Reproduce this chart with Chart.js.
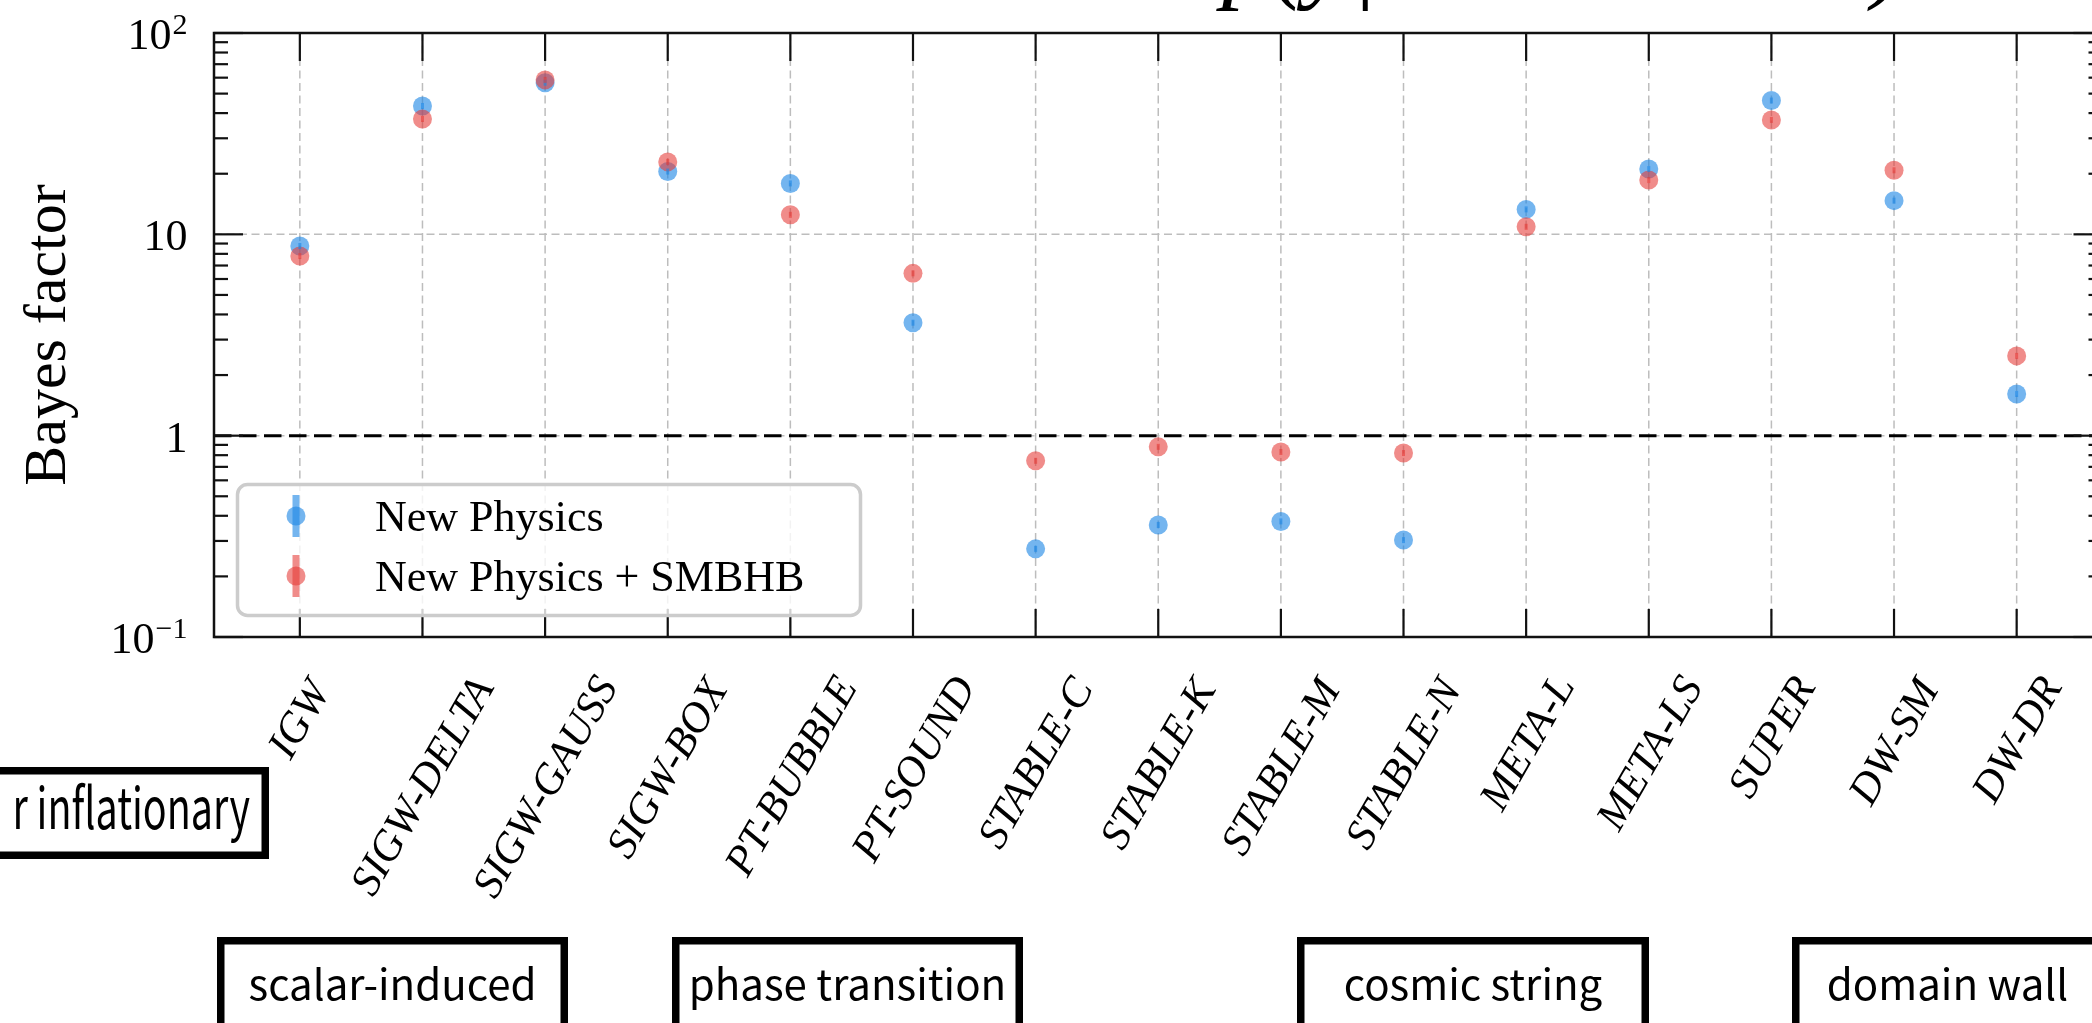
<!DOCTYPE html>
<html>
<head>
<meta charset="utf-8">
<script src="https://cdn.jsdelivr.net/npm/chart.js@4.4.1/dist/chart.umd.min.js"></script>
<style>
html,body{margin:0;padding:0;background:#fff;overflow:hidden;}
#wrap{position:relative;width:2092px;height:1023px;overflow:hidden;background:#fff;}
#inner{position:absolute;left:0;top:0;width:2112px;height:1023px;}
</style>
</head>
<body>
<div id="wrap"><div id="inner"><canvas id="c"></canvas></div></div>
<script>
// ---------------- data ----------------
const categories = ['IGW','SIGW-DELTA','SIGW-GAUSS','SIGW-BOX','PT-BUBBLE','PT-SOUND','STABLE-C','STABLE-K','STABLE-M','STABLE-N','META-L','META-LS','SUPER','DW-SM','DW-DR'];
const newPhysics      = [8.75, 43.4, 56.6, 20.5, 17.9, 3.64, 0.274, 0.36, 0.375, 0.303, 13.3, 21.1, 46.2, 14.7, 1.61];
const newPhysicsSMBHB = [7.8, 37.4, 58.5, 22.9, 12.5, 6.4, 0.75, 0.88, 0.83, 0.82, 10.9, 18.6, 37.0, 20.8, 2.49];
const seriesLabels = ['New Physics', 'New Physics + SMBHB'];
const yTickValues = [0.1, 1, 10, 100];
const yTickBase   = ['10', '1', '10', '10'];
const yTickExp    = ['\u22121', '', '', '2'];
const yAxisTitle = 'Bayes factor';
const referenceLevel = 1;
const groupLabels = ['r inflationary', 'scalar-induced', 'phase transition', 'cosmic string', 'domain wall'];
const titlePieces = ['p(y|', ')'];

// ---------------- styles / layout ----------------
const BLUE = 'rgba(30,136,229,0.62)';
const RED  = 'rgba(229,57,53,0.58)';
const SERIF = '"Liberation Serif", "DejaVu Serif", serif';
const SANS  = '"Noto Sans CJK SC", "Noto Sans", sans-serif';
const groupBoxStyle = [
  {left:-60, right:269, top:767, bottom:859, anchor:'right', tx:250, baseline:829, size:58, sx:0.68},
  {left:217, right:568, top:937, bottom:1080, anchor:'center', baseline:1000, size:42, sx:1},
  {left:672, right:1023, top:937, bottom:1080, anchor:'center', baseline:1000, size:42, sx:1},
  {left:1297, right:1649, top:937, bottom:1080, anchor:'center', baseline:1000, size:42, sx:1},
  {left:1792, right:2103, top:937, bottom:1080, anchor:'center', baseline:1000, size:42, sx:1}
];
const titleStyle = [{x:1222, y:-10}, {x:1872, y:-10}];

function line(ctx, x1, y1, x2, y2){ ctx.beginPath(); ctx.moveTo(x1,y1); ctx.lineTo(x2,y2); ctx.stroke(); }

const framePlugin = {
  id: 'frame',
  beforeDatasetsDraw(chart){
    const {ctx, chartArea:a, scales:{x, y}} = chart;
    ctx.save();
    ctx.strokeStyle = '#bdbdbd'; ctx.lineWidth = 1.5; ctx.setLineDash([8, 4.5]);
    categories.forEach((c, i) => { const px = x.getPixelForValue(i); line(ctx, px, a.top, px, a.bottom); });
    yTickValues.forEach(v => { if (v > y.min && v < y.max) { const py = y.getPixelForValue(v); line(ctx, a.left, py, a.right, py); } });
    ctx.restore();
  },
  afterDatasetsDraw(chart){
    const {ctx, chartArea:a, scales:{x, y}} = chart;
    ctx.save();
    // tiny error-bar cores on markers
    [1, 2].forEach(di => {
      const meta = chart.getDatasetMeta(di);
      ctx.strokeStyle = chart.data.datasets[di].backgroundColor; ctx.lineWidth = 3;
      meta.data.forEach(pt => line(ctx, pt.x, pt.y - 3, pt.x, pt.y + 3));
    });
    // spines
    ctx.strokeStyle = '#111'; ctx.lineWidth = 2.5; ctx.setLineDash([]);
    ctx.strokeRect(a.left, a.top, a.right - a.left, a.bottom - a.top);
    // x ticks (inward, bottom & top)
    ctx.lineWidth = 2.2;
    categories.forEach((c, i) => {
      const px = x.getPixelForValue(i);
      line(ctx, px, a.bottom, px, a.bottom - 28);
      line(ctx, px, a.top, px, a.top + 28);
    });
    // y ticks major / minor
    yTickValues.forEach(v => {
      const py = y.getPixelForValue(v);
      line(ctx, a.left, py, a.left + 29, py);
      line(ctx, a.right, py, a.right - 29, py);
    });
    for (let d = 0; d < yTickValues.length - 1; d++) {
      for (let m = 2; m <= 9; m++) {
        const py = y.getPixelForValue(m * yTickValues[d]);
        line(ctx, a.left, py, a.left + 14, py);
        line(ctx, a.right, py, a.right - 14, py);
      }
    }
    // y tick labels
    ctx.fillStyle = '#000';
    ctx.textBaseline = 'alphabetic';
    yTickValues.forEach((v, i) => {
      const py = y.getPixelForValue(v);
      const right = a.left - 26.5;
      ctx.font = '30px ' + SERIF;
      ctx.textAlign = 'right';
      const ws = yTickExp[i] ? ctx.measureText(yTickExp[i]).width + 1 : 0;
      if (yTickExp[i]) ctx.fillText(yTickExp[i], right, py + 1);
      ctx.font = '44px ' + SERIF;
      ctx.fillText(yTickBase[i], right - ws, py + 16);
    });
    // y title
    ctx.save();
    ctx.font = '60px ' + SERIF; ctx.textAlign = 'center';
    ctx.translate(65, (a.top + a.bottom) / 2); ctx.rotate(-Math.PI / 2);
    ctx.fillText(yAxisTitle, 0, 0);
    ctx.restore();
    // x tick labels (rotated 60deg, bounding box centred on tick, top at fixed offset)
    ctx.font = 'italic 43px ' + SERIF;
    ctx.textAlign = 'center';
    const ang = Math.PI / 3;
    categories.forEach((c, i) => {
      const m = ctx.measureText(c);
      const w = m.actualBoundingBoxLeft + m.actualBoundingBoxRight;
      const h = m.actualBoundingBoxAscent + m.actualBoundingBoxDescent;
      const H = w * Math.sin(ang) + h * Math.cos(ang);
      const px = x.getPixelForValue(i);
      ctx.save();
      ctx.translate(px, a.bottom + 36 + H / 2);
      ctx.rotate(-ang);
      ctx.fillText(c, (m.actualBoundingBoxLeft - m.actualBoundingBoxRight) / 2, (m.actualBoundingBoxAscent - m.actualBoundingBoxDescent) / 2);
      ctx.restore();
    });
    // legend
    ctx.save();
    ctx.beginPath(); ctx.roundRect(237.5, 484.5, 623, 131, 10);
    ctx.fillStyle = 'rgba(255,255,255,0.8)'; ctx.fill();
    ctx.strokeStyle = '#cccccc'; ctx.lineWidth = 3.5; ctx.stroke();
    const cols = [BLUE, RED];
    seriesLabels.forEach((lab, i) => {
      const cy = 516 + i * 60, cx = 296;
      ctx.strokeStyle = cols[i]; ctx.lineWidth = 7; line(ctx, cx, cy - 21, cx, cy + 21);
      ctx.fillStyle = cols[i]; ctx.beginPath(); ctx.arc(cx, cy, 9.5, 0, Math.PI * 2); ctx.fill();
      ctx.fillStyle = '#000'; ctx.font = '44px ' + SERIF; ctx.textAlign = 'left';
      ctx.fillText(lab, 375, cy + 15);
    });
    ctx.restore();
    // title (mostly above the visible area)
    ctx.font = 'italic 100px ' + SERIF; ctx.textAlign = 'left'; ctx.fillStyle = '#000';
    titlePieces.forEach((t, i) => ctx.fillText(t, titleStyle[i].x, titleStyle[i].y));
    // group boxes
    groupLabels.forEach((g, i) => {
      const s = groupBoxStyle[i];
      ctx.save();
      ctx.fillStyle = '#fff'; ctx.fillRect(s.left, s.top, s.right - s.left, s.bottom - s.top);
      ctx.strokeStyle = '#000'; ctx.lineWidth = 7.5;
      ctx.strokeRect(s.left + 3.75, s.top + 3.75, s.right - s.left - 7.5, s.bottom - s.top - 7.5);
      ctx.fillStyle = '#000'; ctx.font = s.size + 'px ' + SANS;
      if (s.anchor === 'right') {
        ctx.translate(s.tx, s.baseline); ctx.scale(s.sx, 1); ctx.textAlign = 'right'; ctx.fillText(g, 0, 0);
      } else {
        ctx.textAlign = 'center'; ctx.fillText(g, (s.left + s.right) / 2, s.baseline);
      }
      ctx.restore();
    });
    ctx.restore();
  }
};

const toPts = arr => arr.map((v, i) => ({x: i, y: v}));

new Chart(document.getElementById('c'), {
  type: 'scatter',
  data: {
    datasets: [
      {type:'line', label:'ref', data:[{x:-0.7, y:referenceLevel}, {x:14.7, y:referenceLevel}], borderColor:'#000', borderWidth:3, borderDash:[17.5, 7.5], pointRadius:0, fill:false, order:3},
      {label: seriesLabels[0], data: toPts(newPhysics), backgroundColor: BLUE, borderWidth: 0, pointRadius: 9.5, order:2},
      {label: seriesLabels[1], data: toPts(newPhysicsSMBHB), backgroundColor: RED, borderWidth: 0, pointRadius: 9.5, order:1}
    ]
  },
  options: {
    responsive: true, maintainAspectRatio: false, animation: false, devicePixelRatio: 1,
    layout: {padding: {left: 214, top: 33, right: 9, bottom: 386}},
    plugins: {legend: {display: false}, tooltip: {enabled: false}},
    events: [],
    scales: {
      x: {type: 'linear', min: -0.7, max: 14.7, display: false},
      y: {type: 'logarithmic', min: 0.1, max: 100, display: false}
    }
  },
  plugins: [framePlugin]
});
</script>
</body>
</html>
